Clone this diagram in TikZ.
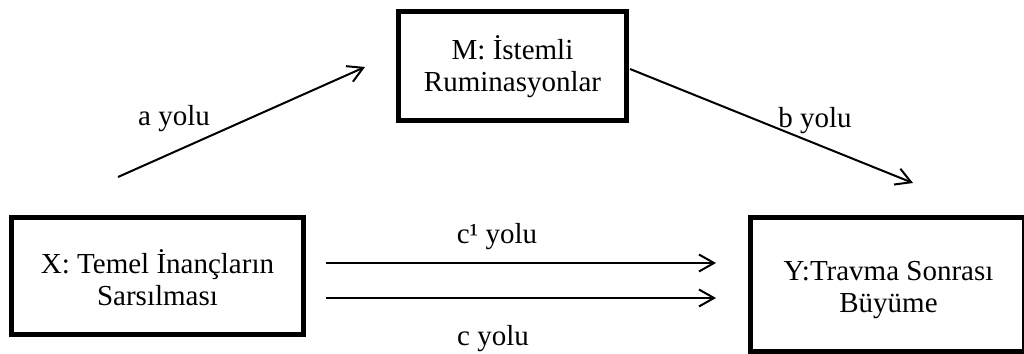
\documentclass[tikz,border=0pt]{standalone}
\usepackage{fontspec}
\setmainfont{Liberation Serif}
\usetikzlibrary{arrows.meta}
\begin{document}
\begin{tikzpicture}[x=1pt,y=-1pt,
  boxst/.style={draw, line width=5pt, inner sep=0pt},
  txt/.style={align=center, font=\fontsize{29}{32}\selectfont, inner sep=0pt},
  lbl/.style={font=\fontsize{29}{32}\selectfont, inner sep=0pt, anchor=base},
  arr/.style={line width=2pt, -{Straight Barb[length=15pt,width=17pt,line width=2pt]}}]
\useasboundingbox (0,0) rectangle (1024,353);
% boxes
\node[boxst, minimum width=228pt, minimum height=109pt] (M) at (512.5,66) {};
\node[boxst, minimum width=292pt, minimum height=117pt] (X) at (157.5,276) {};
\node[boxst, minimum width=274pt, minimum height=134pt] (Y) at (887.5,284.5) {};
% texts
\node[txt] (Mt) at (512.5,67) {M: İstemli\\Ruminasyonlar};
\node[txt] (Xt) at (157.5,278) {X: Temel İnançların\\Sarsılması};
\node[txt] (Yt) at (888.5,290) {Y:Travma Sonrası\\Büyüme};
% arrow ends
\coordinate (a1) at (118,177);
\coordinate (a2) at (365,67);
\coordinate (b1) at (630,69);
\coordinate (b2) at (913,183);
\coordinate (c1s) at (326,263);
\coordinate (c1e) at (716,263);
\coordinate (cs) at (326,298);
\coordinate (ce) at (716,298);
\draw[arr] (a1) -- (a2);
\draw[arr] (b1) -- (b2);
\draw[arr] (c1s) -- (c1e);
\draw[arr] (cs) -- (ce);
% labels
\node[lbl] (la) at (174,125) {a yolu};
\node[lbl] (lb) at (815,127) {b yolu};
\node[lbl] (lc1) at (497,243) {c¹ yolu};
\node[lbl] (lc) at (493,345) {c yolu};
\end{tikzpicture}
\end{document}
